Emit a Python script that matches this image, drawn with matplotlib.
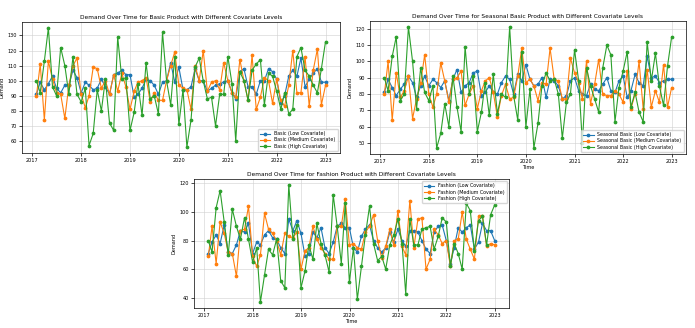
import matplotlib
matplotlib.use("Agg")
import matplotlib.pyplot as plt
import pandas as pd

dates = pd.date_range("2017-01-31", periods=72, freq="ME")

# Basic product
basic_low = [91, 99, 94, 98, 103, 95, 92, 97, 97, 107, 102, 92, 99, 97, 94, 95, 101, 96, 91, 104,
             105, 107, 104, 104, 89, 91, 95, 101, 100, 97, 91, 99, 100, 112, 99, 109, 94, 94, 96, 108,
             100, 100, 93, 95, 97, 98, 99, 100, 92, 88, 106, 108, 96, 96, 91, 100, 100, 108, 106, 101,
             85, 90, 103, 107, 103, 115, 96, 101, 105, 108, 99, 99]
basic_med = [90, 111, 74, 113, 101, 92, 91, 75, 97, 110, 115, 91, 82, 90, 109, 108, 95, 100, 91, 104,
             93, 105, 96, 81, 93, 99, 100, 102, 86, 92, 87, 87, 100, 110, 119, 97, 95, 94, 81, 110,
             100, 120, 93, 99, 100, 94, 112, 100, 92, 89, 114, 100, 87, 117, 81, 89, 102, 100, 85, 101,
             87, 83, 97, 120, 92, 92, 116, 83, 107, 121, 84, 97]
basic_high = [100, 92, 113, 135, 96, 90, 122, 110, 91, 116, 91, 86, 95, 57, 65, 94, 80, 101, 72, 67,
              129, 101, 102, 67, 79, 98, 77, 112, 88, 90, 78, 132, 100, 84, 116, 71, 94, 56, 74, 109,
              115, 100, 88, 89, 70, 91, 91, 116, 98, 60, 106, 100, 87, 107, 111, 114, 84, 105, 103, 93,
              81, 92, 78, 81, 116, 122, 107, 103, 97, 92, 108, 126]

# Seasonal basic product
seasonal_low = [81, 89, 84, 79, 83, 86, 91, 87, 78, 85, 91, 85, 89, 87, 84, 88, 76, 89, 95, 81,
                85, 87, 93, 94, 79, 81, 85, 81, 80, 87, 91, 89, 80, 92, 88, 98, 89, 85, 86, 90,
                78, 89, 88, 85, 77, 79, 88, 90, 82, 80, 79, 86, 83, 82, 86, 90, 82, 81, 88, 91,
                78, 82, 92, 87, 85, 103, 90, 91, 87, 88, 89, 89]
seasonal_med = [80, 100, 64, 93, 78, 82, 91, 65, 77, 87, 104, 80, 72, 80, 99, 88, 75, 89, 90, 94,
                73, 80, 85, 71, 82, 88, 90, 81, 66, 79, 86, 77, 78, 91, 108, 87, 89, 85, 76, 87,
                86, 108, 89, 88, 77, 77, 102, 93, 87, 77, 100, 74, 86, 101, 80, 79, 79, 82, 80, 75,
                94, 71, 80, 100, 71, 95, 72, 82, 75, 98, 72, 84]
seasonal_high = [90, 82, 103, 115, 76, 80, 121, 100, 71, 96, 81, 76, 85, 47, 56, 74, 60, 91, 72, 57,
                 109, 80, 91, 57, 69, 87, 67, 92, 68, 80, 78, 121, 79, 64, 106, 60, 83, 47, 62, 85,
                 93, 88, 89, 80, 53, 75, 80, 107, 88, 50, 96, 85, 77, 69, 96, 110, 104, 63, 84, 94,
                 106, 72, 81, 69, 63, 112, 88, 105, 85, 73, 97, 115]

# Fashion product
fashion_low = [71, 79, 84, 78, 91, 72, 71, 77, 87, 86, 92, 71, 79, 77, 84, 87, 82, 81, 75, 71,
               95, 87, 94, 85, 69, 71, 86, 82, 89, 75, 71, 79, 90, 92, 89, 89, 75, 72, 83, 88,
               91, 80, 75, 72, 75, 86, 79, 88, 80, 76, 87, 87, 86, 80, 74, 71, 86, 90, 91, 80,
               64, 75, 89, 86, 89, 91, 74, 79, 92, 87, 87, 80]
fashion_med = [69, 90, 64, 93, 85, 72, 71, 55, 87, 88, 104, 69, 62, 70, 99, 88, 85, 80, 70, 85,
               83, 82, 86, 60, 73, 75, 90, 81, 75, 71, 67, 67, 90, 90, 109, 77, 78, 75, 74, 86,
               90, 98, 80, 68, 76, 88, 77, 101, 76, 70, 108, 75, 95, 96, 60, 67, 88, 84, 78, 80,
               62, 80, 81, 100, 81, 74, 67, 97, 97, 76, 78, 77]
fashion_high = [80, 72, 103, 115, 93, 70, 102, 90, 81, 96, 81, 65, 75, 37, 56, 74, 70, 81, 52, 47,
                119, 81, 91, 47, 59, 77, 67, 92, 78, 70, 58, 112, 90, 64, 106, 51, 75, 39, 62, 84,
                104, 78, 66, 69, 60, 77, 84, 95, 78, 43, 95, 77, 77, 88, 89, 90, 74, 83, 96, 93,
                62, 78, 71, 60, 106, 101, 73, 94, 97, 77, 98, 105]

levels = ["Low Covariate", "Medium Covariate", "High Covariate"]
W, H = 695, 328


def box(x0, y0, x1, y1):
    return [x0 / W, 1 - y1 / H, (x1 - x0) / W, (y1 - y0) / H]


def draw(ax, name, series, title, legend_loc, xlabel=True):
    for vals, lvl in zip(series, levels):
        ax.plot(dates, vals, marker="o", markersize=1.7, linewidth=0.8,
                label=f"{name} ({lvl})")
    ax.set_title(title, fontsize=4.2, pad=2.5)
    ax.set_ylabel("Demand", fontsize=3.6, labelpad=2)
    if xlabel:
        ax.set_xlabel("Time", fontsize=3.6, labelpad=1)
    ax.tick_params(labelsize=3.6, length=2, width=0.5, pad=1.5)
    ax.grid(True, linewidth=0.4, color="#d0d0d0")
    for s in ax.spines.values():
        s.set_linewidth(0.5)
    ax.legend(loc=legend_loc, fontsize=3.4, handlelength=2.2, borderpad=0.45, labelspacing=0.25,
              framealpha=0.8)


fig = plt.figure(figsize=(6.95, 3.28), dpi=100)

ax1 = fig.add_axes(box(22, 22, 340, 153))
draw(ax1, "Basic", [basic_low, basic_med, basic_high],
     "Demand Over Time for Basic Product with Different Covariate Levels", "lower right", xlabel=False)

ax2 = fig.add_axes(box(370, 21, 686, 154))
draw(ax2, "Seasonal Basic", [seasonal_low, seasonal_med, seasonal_high],
     "Demand Over Time for Seasonal Basic Product with Different Covariate Levels", "lower right")

ax3 = fig.add_axes(box(194, 179, 509, 308))
draw(ax3, "Fashion", [fashion_low, fashion_med, fashion_high],
     "Demand Over Time for Fashion Product with Different Covariate Levels", "upper right")

fig.savefig("out.png", dpi=100)
